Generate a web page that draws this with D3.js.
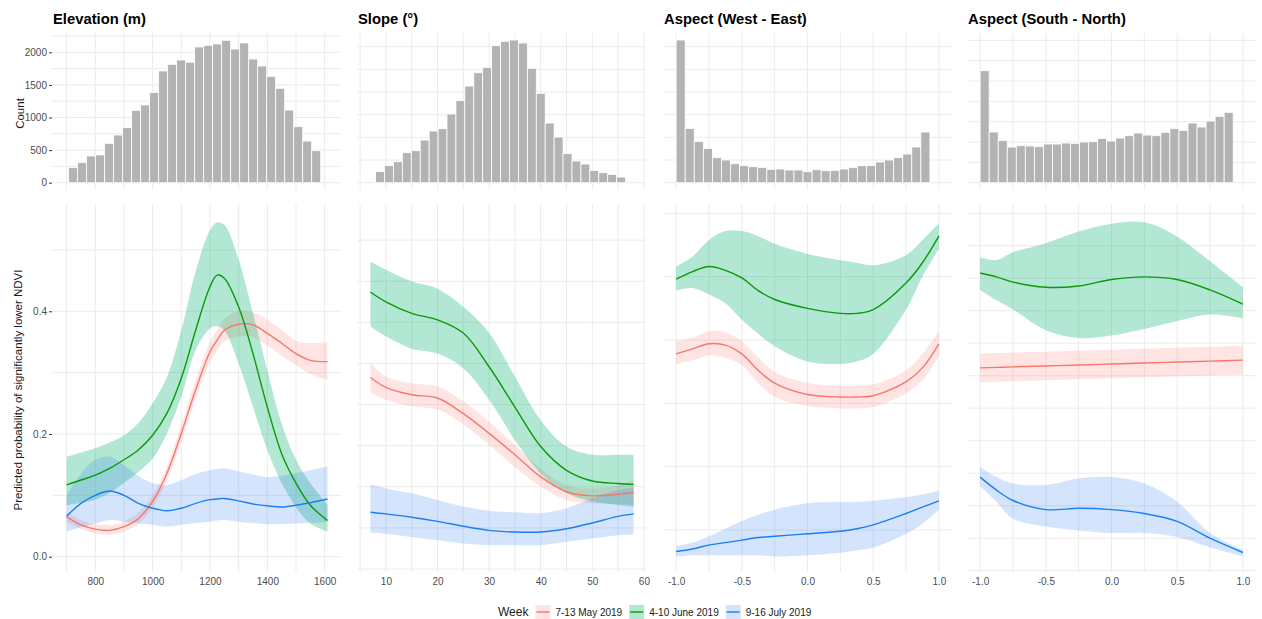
<!DOCTYPE html>
<html>
<head>
<meta charset="utf-8">
<script src="https://cdn.jsdelivr.net/npm/d3@7"></script>
<style>
  body { margin: 0; background: #fff; }
  svg { font-family: "Liberation Sans", Arial, sans-serif; }
  .axis text { fill: #4d4d4d; font-size: 10px; }
  .axis line { stroke: #333; }
</style>
</head>
<body>
<div id="chart"></div>
<script>
// ---- data ----
const weeks = ["7-13 May 2019", "4-10 June 2019", "9-16 July 2019"];

// histograms (counts per bin)
const elevCounts = [230, 307, 409, 425, 604, 731, 844, 1110, 1192, 1381, 1714, 1816, 1882, 1847,
  2082, 2107, 2128, 2184, 2051, 2143, 1898, 1790, 1632, 1448, 1115, 859, 639, 491];
const slopeCounts = [243, 375, 463, 662, 706, 941, 1140, 1191, 1515, 1809, 2132, 2426, 2544, 3022,
  3118, 3147, 3081, 2522, 1971, 1316, 1007, 640, 478, 412, 272, 221, 184, 125];
const weCounts = [6294, 2397, 1824, 1515, 1103, 1000, 838, 750, 706, 676, 588, 603, 559, 559,
  485, 574, 529, 544, 603, 662, 750, 750, 912, 1000, 1103, 1265, 1574, 2235];
const snCounts = [2754, 1246, 1041, 877, 910, 902, 885, 951, 951, 975, 967, 1000, 1008, 1090,
  1025, 1098, 1156, 1221, 1172, 1156, 1238, 1328, 1287, 1467, 1369, 1516, 1631, 1730];
const binStart = [707, 8.0, -1.0, -1.0];
const binWidth = [31.4, 1.73, 0.069, 0.0688];

// smooth fits: Elevation
const elevX = [700, 750, 800, 850, 900, 950, 1000, 1050, 1100, 1150, 1200, 1225, 1250, 1300, 1350, 1400, 1450, 1500, 1550, 1610];
const elevRed = [.065, .052, .045, .043, .049, .062, .09, .136, .201, .272, .334, .353, .369, .379, .378, .364, .348, .331, .32, .318];
const elevRedLo = [.056, .045, .038, .036, .041, .053, .08, .125, .188, .257, .318, .336, .351, .359, .358, .344, .328, .312, .298, .288];
const elevRedHi = [.073, .06, .053, .052, .058, .072, .1, .148, .215, .288, .35, .37, .388, .4, .398, .386, .37, .352, .348, .35];
const elevGreen = [.117, .125, .133, .144, .158, .174, .198, .234, .291, .369, .44, .459, .454, .407, .331, .244, .168, .12, .084, .059];
const elevGreenLo = [.084, .088, .093, .104, .12, .138, .16, .201, .261, .337, .372, .376, .369, .315, .244, .174, .12, .081, .054, .041];
const elevGreenHi = [.163, .17, .177, .186, .198, .218, .25, .293, .369, .465, .532, .545, .541, .484, .397, .304, .217, .158, .12, .084];
const elevBlue = [.066, .087, .1, .107, .1, .087, .079, .075, .079, .087, .093, .094, .095, .091, .086, .083, .081, .084, .088, .094];
const elevBlueLo = [.041, .048, .054, .06, .057, .054, .052, .049, .052, .055, .057, .059, .06, .057, .055, .053, .053, .054, .055, .057];
const elevBlueHi = [.1, .135, .158, .163, .149, .132, .12, .117, .125, .135, .141, .143, .144, .139, .134, .13, .132, .136, .141, .147];

// Slope
const slopeX = [7, 10, 15, 20, 25, 30, 35, 40, 45, 50, 55, 58];
const slopeRed = [.233, .221, .212, .208, .189, .165, .139, .112, .094, .089, .091, .093];
const slopeRedLo = [.214, .206, .198, .194, .176, .151, .124, .1, .084, .08, .079, .078];
const slopeRedHi = [.251, .234, .226, .222, .204, .179, .151, .122, .102, .098, .102, .108];
const slopeGreen = [.337, .325, .311, .303, .287, .246, .197, .149, .12, .107, .104, .103];
const slopeGreenLo = [.295, .283, .268, .262, .244, .206, .157, .116, .092, .082, .078, .076];
const slopeGreenHi = [.374, .364, .35, .341, .319, .287, .234, .181, .149, .139, .139, .139];
const slopeBlue = [.069, .067, .063, .058, .052, .047, .045, .045, .049, .056, .064, .067];
const slopeBlueLo = [.044, .043, .039, .035, .031, .029, .029, .029, .033, .037, .041, .042];
const slopeBlueHi = [.103, .098, .092, .084, .076, .071, .069, .068, .074, .086, .096, .099];

// Aspect (West - East)
const weX = [-1, -0.875, -0.75, -0.625, -0.5, -0.375, -0.25, 0, 0.25, 0.375, 0.5, 0.75, 0.875, 1];
const weRed = [.189, .193, .197, .196, .189, .176, .166, .157, .155, .155, .156, .167, .178, .197];
const weRedLo = [.181, .184, .188, .186, .18, .166, .155, .148, .146, .146, .147, .158, .168, .187];
const weRedHi = [.199, .202, .207, .206, .199, .186, .175, .166, .164, .164, .165, .176, .189, .207];
const weGreen = [.248, .254, .258, .255, .249, .239, .232, .225, .221, .221, .224, .245, .261, .282];
const weGreenLo = [.239, .241, .236, .229, .216, .205, .195, .183, .181, .183, .189, .224, .25, .272];
const weGreenHi = [.258, .266, .279, .286, .286, .282, .276, .268, .263, .261, .259, .267, .279, .292];
const weBlue = [.033, .035, .038, .04, .042, .044, .045, .047, .049, .051, .054, .063, .068, .073];
const weBlueLo = [.029, .03, .03, .03, .03, .03, .029, .03, .032, .034, .036, .047, .055, .066];
const weBlueHi = [.037, .04, .045, .051, .057, .062, .066, .071, .072, .072, .073, .076, .078, .081];

// Aspect (South - North)
const snX = [-1, -0.875, -0.75, -0.5, -0.25, 0, 0.25, 0.5, 0.75, 1];
const snRed = [.156, .1564, .1568, .1575, .1582, .159, .1598, .1605, .1612, .162];
const snRedLo = [.145, .1454, .1458, .1465, .1472, .148, .1488, .1495, .1502, .151];
const snRedHi = [.167, .1674, .1678, .1685, .1692, .17, .1708, .1715, .1722, .173];
const snGreen = [.229, .226, .222, .218, .219, .224, .226, .224, .216, .205];
const snGreenLo = [.216, .208, .201, .185, .179, .181, .186, .192, .197, .194];
const snGreenHi = [.241, .239, .245, .252, .261, .267, .268, .257, .238, .218];
const snBlue = [.072, .062, .054, .047, .048, .047, .044, .038, .025, .014];
const snBlueLo = [.065, .053, .04, .034, .031, .029, .029, .026, .018, .011];
const snBlueHi = [.08, .072, .067, .066, .071, .072, .067, .053, .029, .016];

// ---- layout & styles ----
const W = 1262, H = 619;
const panelW = 289;
const panelLeft = [52, 357, 663, 967];
const histTop = 33, histBottom = 190;
const fitTop = 204, fitBottom = 572;
const lineColors = ["#F8766D", "#0A9A0A", "#1A80F0"];
const fillColors = ["#F8766D", "#00AF6E", "#2878F5"];
const fillAlpha = [0.2, 0.3, 0.2];
const gridColor = "#ebebeb";
const dec1 = d => d3.format(".1f")(d).replace("\u2212", "-");

const panels = [
  { title: "Elevation (m)", xDomain: [649, 1657], xMajor: [800, 1000, 1200, 1400, 1600], xMinor: [700, 900, 1100, 1300, 1500],
    fmt: d3.format("d"), counts: elevCounts, hDomain: [-112, 2296], hStep: 250,
    yDomain: [-0.0249, 0.5749], yGrid: d3.range(0, 0.55, 0.1),
    x: elevX, series: [[elevRed, elevRedLo, elevRedHi], [elevGreen, elevGreenLo, elevGreenHi], [elevBlue, elevBlueLo, elevBlueHi]] },
  { title: "Slope (°)", xDomain: [4.4, 60.4], xMajor: [10, 20, 30, 40, 50, 60], xMinor: [5, 15, 25, 35, 45, 55],
    fmt: d3.format("d"), counts: slopeCounts, hDomain: [-161, 3302], hStep: 500,
    yDomain: [-0.00365, 0.444], yGrid: d3.range(0, 0.43, 0.05),
    x: slopeX, series: [[slopeRed, slopeRedLo, slopeRedHi], [slopeGreen, slopeGreenLo, slopeGreenHi], [slopeBlue, slopeBlueLo, slopeBlueHi]] },
  { title: "Aspect (West - East)", xDomain: [-1.1, 1.1], xMajor: [-1, -0.5, 0, 0.5, 1], xMinor: [-0.75, -0.25, 0.25, 0.75],
    fmt: dec1, counts: weCounts, hDomain: [-322, 6603], hStep: 1000,
    yDomain: [0.0168, 0.3074], yGrid: d3.range(0.05, 0.31, 0.05),
    x: weX, series: [[weRed, weRedLo, weRedHi], [weGreen, weGreenLo, weGreenHi], [weBlue, weBlueLo, weBlueHi]] },
  { title: "Aspect (South - North)", xDomain: [-1.1, 1.1], xMajor: [-1, -0.5, 0, 0.5, 1], xMinor: [-0.75, -0.25, 0.25, 0.75],
    fmt: dec1, counts: snCounts, hDomain: [-179.5, 3681], hStep: 500,
    yDomain: [-0.001, 0.2821], yGrid: d3.range(0, 0.28, 0.025),
    x: snX, series: [[snRed, snRedLo, snRedHi], [snGreen, snGreenLo, snGreenHi], [snBlue, snBlueLo, snBlueHi]] }
];

const svg = d3.select("#chart").append("svg").attr("width", W).attr("height", H);

panels.forEach((p, pi) => {
  const x = d3.scaleLinear().domain(p.xDomain).range([panelLeft[pi], panelLeft[pi] + panelW]);
  const yh = d3.scaleLinear().domain(p.hDomain).range([histBottom, histTop]);
  const y = d3.scaleLinear().domain(p.yDomain).range([fitBottom, fitTop]);
  const g = svg.append("g");
  const x0 = panelLeft[pi], x1 = panelLeft[pi] + panelW;

  // title
  svg.append("text").attr("x", x0 + 1).attr("y", 24)
    .style("font-size", "14.8px").style("font-weight", "bold").attr("fill", "#000")
    .text(p.title);

  // --- histogram panel ---
  const hGrid = d3.range(0, p.hDomain[1], p.hStep);
  g.selectAll(null).data(hGrid).join("line")
    .attr("x1", x0).attr("x2", x1).attr("y1", d => yh(d)).attr("y2", d => yh(d))
    .attr("stroke", gridColor).attr("stroke-width", 1);
  g.selectAll(null).data(p.xMajor.concat(p.xMinor)).join("line")
    .attr("x1", d => x(d)).attr("x2", d => x(d)).attr("y1", histTop).attr("y2", histBottom)
    .attr("stroke", gridColor).attr("stroke-width", 1);

  g.selectAll(null).data(p.counts).join("rect")
    .attr("x", (d, i) => x(binStart[pi] + i * binWidth[pi]))
    .attr("width", (d, i) => x(binStart[pi] + (i + 1) * binWidth[pi]) - x(binStart[pi] + i * binWidth[pi]))
    .attr("y", d => yh(d))
    .attr("height", d => yh(0) - yh(d))
    .attr("fill", "#b3b3b3")
    .attr("stroke", "#fff").attr("stroke-width", 0.8);

  // --- fit panel ---
  g.selectAll(null).data(p.yGrid).join("line")
    .attr("x1", x0).attr("x2", x1).attr("y1", d => y(d)).attr("y2", d => y(d))
    .attr("stroke", gridColor).attr("stroke-width", 1);
  g.selectAll(null).data(p.xMajor.concat(p.xMinor)).join("line")
    .attr("x1", d => x(d)).attr("x2", d => x(d)).attr("y1", fitTop).attr("y2", fitBottom)
    .attr("stroke", gridColor).attr("stroke-width", 1);

  const curve = d3.curveCatmullRom.alpha(0.5);
  const area = d3.area().curve(curve)
    .x((d, i) => x(p.x[i]))
    .y0(d => y(d[1]))
    .y1(d => y(d[2]));
  const line = d3.line().curve(curve)
    .x((d, i) => x(p.x[i]))
    .y(d => y(d));

  p.series.forEach((s, k) => {
    const rows = p.x.map((_, i) => [s[0][i], s[1][i], s[2][i]]);
    g.append("path").attr("d", area(rows))
      .attr("fill", fillColors[k]).attr("fill-opacity", fillAlpha[k]);
  });
  p.series.forEach((s, k) => {
    g.append("path").attr("d", line(s[0]))
      .attr("fill", "none").attr("stroke", lineColors[k]).attr("stroke-width", 1.4);
  });

  // x axis
  svg.append("g").attr("class", "axis")
    .attr("transform", `translate(0,${fitBottom})`)
    .call(d3.axisBottom(x).tickValues(p.xMajor).tickFormat(p.fmt).tickSize(0).tickPadding(6))
    .call(a => a.select(".domain").remove());

  if (pi === 0) {
    svg.append("g").attr("class", "axis")
      .attr("transform", `translate(${x0},0)`)
      .call(d3.axisLeft(yh).tickValues([0, 500, 1000, 1500, 2000]).tickFormat(d3.format("d")).tickSize(3).tickPadding(2))
      .call(a => a.select(".domain").remove());
    svg.append("g").attr("class", "axis")
      .attr("transform", `translate(${x0},0)`)
      .call(d3.axisLeft(y).tickValues([0, 0.2, 0.4]).tickFormat(dec1).tickSize(3).tickPadding(2))
      .call(a => a.select(".domain").remove());
  }
});

// axis titles
svg.append("text")
  .attr("transform", `translate(24,${(histTop + histBottom) / 2 + 2}) rotate(-90)`)
  .attr("text-anchor", "middle").style("font-size", "11.5px").attr("fill", "#1a1a1a")
  .text("Count");
svg.append("text")
  .attr("transform", `translate(22,${(fitTop + fitBottom) / 2 + 2}) rotate(-90)`)
  .attr("text-anchor", "middle").style("font-size", "11.5px").attr("fill", "#1a1a1a")
  .text("Predicted probability of significantly lower NDVI");

// legend
const leg = svg.append("g").attr("transform", "translate(498,616)");
const wk = leg.append("text").attr("x", 0).attr("y", 0).style("font-size", "12px").attr("fill", "#1a1a1a").text("Week");
let lx = wk.node().getComputedTextLength() + 7;
weeks.forEach((w, k) => {
  leg.append("rect").attr("x", lx).attr("y", -11).attr("width", 15).attr("height", 14)
    .attr("fill", fillColors[k]).attr("fill-opacity", fillAlpha[k]);
  leg.append("line").attr("x1", lx + 1).attr("x2", lx + 14).attr("y1", -4).attr("y2", -4)
    .attr("stroke", lineColors[k]).attr("stroke-width", 1.4);
  const t = leg.append("text").attr("x", lx + 20).attr("y", -0.5)
    .style("font-size", "10px").attr("fill", "#1a1a1a").text(w);
  lx += 20 + t.node().getComputedTextLength() + 7;
});
</script>
</body>
</html>
